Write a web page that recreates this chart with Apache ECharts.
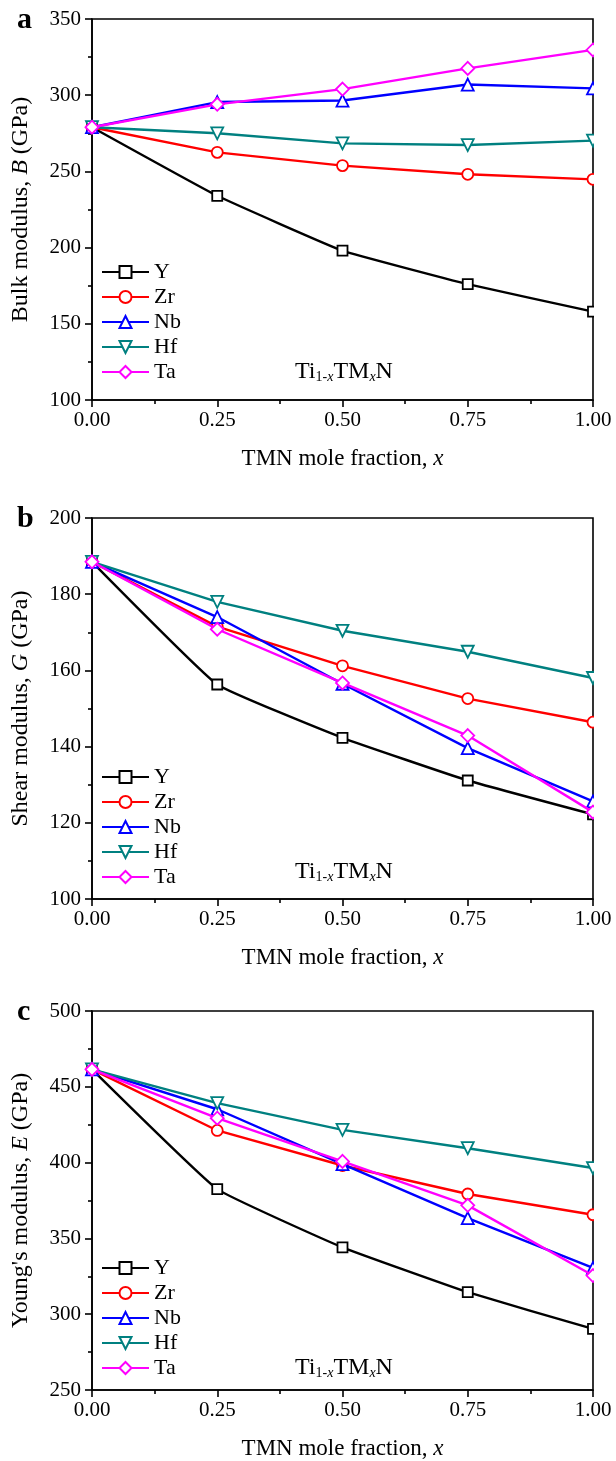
<!DOCTYPE html>
<html>
<head>
<meta charset="utf-8">
<script src="https://cdn.jsdelivr.net/npm/echarts@6/dist/echarts.min.js"></script>
<style>
  html, body { margin: 0; padding: 0; background: #fff; }
  #chart { width: 616px; height: 1461px; }
</style>
</head>
<body>
<div id="chart"></div>
<script>
// TMN mole fraction x
const fraction = [0, 0.25, 0.5, 0.75, 1.0];
const xTickLabels = ['0.00', '0.25', '0.50', '0.75', '1.00'];

// Bulk modulus B (GPa)
const bulkY  = [279, 234, 198, 176, 158];
const bulkZr = [279, 262.5, 253.8, 248.1, 244.8];
const bulkNb = [279, 295.5, 296.5, 307, 304.5];
const bulkHf = [279, 275, 268.4, 267.3, 270.2];
const bulkTa = [279, 294, 304, 317.6, 329.7];

// Shear modulus G (GPa)
const shearY  = [188.5, 156.3, 142.3, 131.1, 122.2];
const shearZr = [188.5, 171.5, 161.2, 152.6, 146.4];
const shearNb = [188.5, 174, 156.5, 139.6, 125.6];
const shearHf = [188.5, 178, 170.4, 164.9, 158];
const shearTa = [188.5, 170.8, 156.7, 142.9, 122.8];

// Young's modulus E (GPa)
const youngY  = [461.5, 382.5, 344.1, 314.5, 290.3];
const youngZr = [461.5, 421.2, 398.1, 379.3, 365.6];
const youngNb = [461.5, 435.2, 399, 363.4, 330.5];
const youngHf = [461.5, 439.2, 421.6, 409.5, 396.4];
const youngTa = [461.5, 429.3, 400.8, 371.8, 325.5];

const elements = ['Y', 'Zr', 'Nb', 'Hf', 'Ta'];
const colors = { Y: '#000000', Zr: '#ff0000', Nb: '#0000ff', Hf: '#008080', Ta: '#ff00ff' };
const symbols = {
  Y: ['rect', 10, 0], Zr: ['circle', 11, 0], Nb: ['triangle', 12, 0],
  Hf: ['triangle', 12, 180], Ta: ['diamond', 13, 0]
};

const panels = [
  { letter: 'a', top: 19, height: 381, min: 100, max: 350, interval: 50,
    name: '{n|Bulk modulus, }{i|B}{n| (GPa)}',
    values: [bulkY, bulkZr, bulkNb, bulkHf, bulkTa], legendY: 272, labelY: 372 },
  { letter: 'b', top: 518, height: 381, min: 100, max: 200, interval: 20,
    name: '{n|Shear modulus, }{i|G}{n| (GPa)}',
    values: [shearY, shearZr, shearNb, shearHf, shearTa], legendY: 777, labelY: 872 },
  { letter: 'c', top: 1011, height: 380, min: 250, max: 500, interval: 50,
    name: "{n|Young's modulus, }{i|E}{n| (GPa)}",
    values: [youngY, youngZr, youngNb, youngHf, youngTa], legendY: 1268, labelY: 1368 }
];

const FONT = '"Liberation Serif", "DejaVu Serif", serif';
const GRID_LEFT = 92, GRID_RIGHT_X = 593;

const grid = [], xAxis = [], yAxis = [], series = [], legend = [], graphic = [];

panels.forEach((p, k) => {
  grid.push({
    left: GRID_LEFT, right: 616 - GRID_RIGHT_X, top: p.top, height: p.height,
    show: true, borderColor: '#000', borderWidth: 1.6, backgroundColor: 'transparent'
  });
  xAxis.push({
    type: 'value', gridIndex: k, min: 0, max: 1, interval: 0.25,
    axisLine: { lineStyle: { color: '#000', width: 1.6 } },
    axisTick: { inside: false, length: 7, lineStyle: { color: '#000', width: 1.6 } },
    minorTick: { show: true, splitNumber: 2, length: 4, lineStyle: { color: '#000', width: 1.6 } },
    splitLine: { show: false },
    axisLabel: {
      color: '#000', fontFamily: FONT, fontSize: 21, margin: 10,
      formatter: v => xTickLabels[fraction.indexOf(v)] ?? v.toFixed(2)
    },
    name: 'TMN mole fraction, {i|x}', nameLocation: 'middle', nameGap: 47,
    nameTextStyle: {
      color: '#000', fontFamily: FONT, fontSize: 23,
      rich: { i: { fontFamily: FONT, fontSize: 23, fontStyle: 'italic', color: '#000' } }
    }
  });
  yAxis.push({
    type: 'value', gridIndex: k, min: p.min, max: p.max, interval: p.interval,
    axisLine: { show: true, lineStyle: { color: '#000', width: 1.6 } },
    axisTick: { show: true, inside: false, length: 7, lineStyle: { color: '#000', width: 1.6 } },
    minorTick: { show: true, splitNumber: 2, length: 4, lineStyle: { color: '#000', width: 1.6 } },
    splitLine: { show: false },
    axisLabel: { color: '#000', fontFamily: FONT, fontSize: 21, margin: 11 },
    name: p.name, nameLocation: 'middle', nameGap: 59,
    nameTextStyle: {
      color: '#000',
      rich: {
        n: { fontFamily: FONT, fontSize: 24, color: '#000' },
        i: { fontFamily: FONT, fontSize: 24, fontStyle: 'italic', color: '#000' }
      }
    }
  });

  elements.forEach((el, j) => {
    const [sym, size, rot] = symbols[el];
    series.push({
      type: 'line', name: el, xAxisIndex: k, yAxisIndex: k,
      data: fraction.map((x, i) => [x, p.values[j][i]]),
      smooth: el === 'Y' ? 0.1 : false,
      symbol: sym, symbolSize: size, symbolRotate: rot, showAllSymbol: true,
      clip: false,
      lineStyle: { color: colors[el], width: 2.4 },
      itemStyle: { color: '#fff', borderColor: colors[el], borderWidth: 1.8, opacity: 1 },
      emphasis: { disabled: true },
      z: 2 + j
    });
  });

  legend.push({
    orient: 'vertical', left: 101, top: p.legendY - 12.5, padding: 0,
    itemWidth: 47, itemHeight: 15, itemGap: 0,
    data: elements,
    selectedMode: false,
    textStyle: { color: '#000', fontFamily: FONT, fontSize: 22, lineHeight: 25 }
  });

  // markers at x = 1 sit half outside the right frame
  graphic.push({
    type: 'rect', z: 100,
    shape: { x: GRID_RIGHT_X + 1, y: p.top - 8, width: 30, height: p.height + 7 },
    style: { fill: '#fff' }
  });

  // compound formula label
  graphic.push({
    type: 'text', z: 110, x: 344, y: p.labelY,
    style: {
      text: '{n|Ti}{s|1-}{si|x}{n|TM}{si|x}{n|N}',
      align: 'center', verticalAlign: 'middle',
      rich: {
        n: { fontFamily: FONT, fontSize: 24, fill: '#000', verticalAlign: 'bottom' },
        s: { fontFamily: FONT, fontSize: 14, fill: '#000', verticalAlign: 'bottom' },
        si: { fontFamily: FONT, fontSize: 14, fontStyle: 'italic', fill: '#000', verticalAlign: 'bottom' }
      }
    }
  });

  // panel letter
  graphic.push({
    type: 'text', z: 110, x: 17, y: p.top + 1,
    style: {
      text: p.letter, fontFamily: FONT, fontSize: 30, fontWeight: 'bold',
      fill: '#000', align: 'left', verticalAlign: 'middle'
    }
  });
});

const chart = echarts.init(document.getElementById('chart'), null, { renderer: 'canvas' });
chart.setOption({
  animation: false,
  backgroundColor: '#fff',
  grid, xAxis, yAxis, series, legend, graphic
});
</script>
</body>
</html>
